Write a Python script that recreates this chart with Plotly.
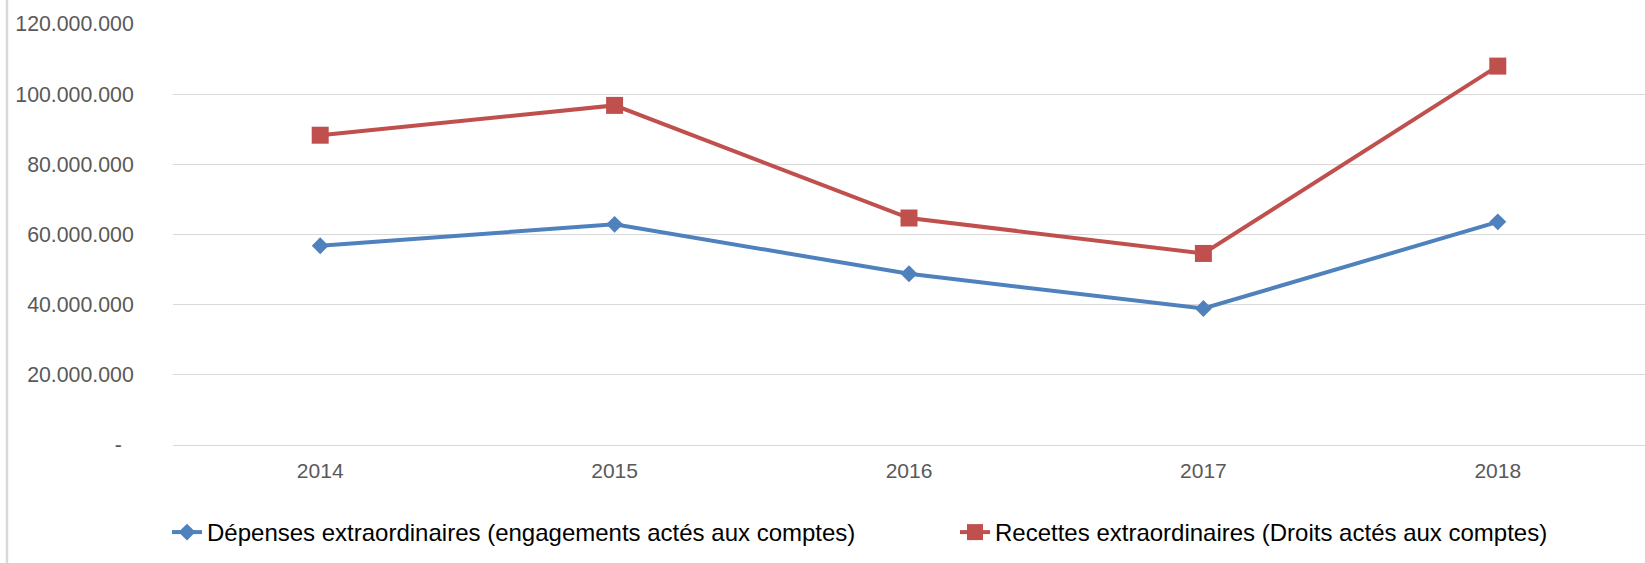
import plotly.graph_objects as go

years = ["2014", "2015", "2016", "2017", "2018"]
depenses = [56.8e6, 62.9e6, 48.8e6, 38.9e6, 63.6e6]
recettes = [88.3e6, 96.8e6, 64.7e6, 54.6e6, 108.0e6]
series_names = [
    "Dépenses extraordinaires (engagements actés aux comptes)",
    "Recettes extraordinaires (Droits actés aux comptes)",
]
y_tickvals = [0, 20e6, 40e6, 60e6, 80e6, 100e6, 120e6]
y_ticktext = ["-\u00a0\u00a0", "20.000.000", "40.000.000", "60.000.000",
              "80.000.000", "100.000.000", "120.000.000"]

W, H = 1645, 563
L, R, T, B = 173, 0, 24, 118
FONT = "Liberation Sans, Arial, sans-serif"

fig = go.Figure()
fig.add_trace(go.Scatter(
    x=years, y=depenses, name=series_names[0], mode="lines+markers",
    line=dict(color="#4F81BD", width=4),
    marker=dict(symbol="diamond", size=13, color="#4F81BD"),
    legend="legend",
))
fig.add_trace(go.Scatter(
    x=years, y=recettes, name=series_names[1], mode="lines+markers",
    line=dict(color="#C0504D", width=4),
    marker=dict(symbol="square", size=17, color="#C0504D"),
    legend="legend2",
))

leg_common = dict(
    orientation="h", xref="container", yref="container",
    xanchor="left", y=1 - 532.5 / H, yanchor="middle",
    font=dict(family=FONT, size=24, color="#000000"),
    bgcolor="rgba(0,0,0,0)",
)

fig.update_layout(
    width=W, height=H,
    margin=dict(l=L, r=R, t=T, b=B, pad=0, autoexpand=False),
    paper_bgcolor="white", plot_bgcolor="white",
    font=dict(family=FONT, color="#595959", size=21),
    showlegend=True,
    legend=dict(x=167 / W, **leg_common),
    legend2=dict(x=955 / W, **leg_common),
    xaxis=dict(
        type="category", range=[-0.5, 4.5], automargin=False,
        showgrid=False, zeroline=False, showline=False,
        ticks="outside", ticklen=7, tickcolor="rgba(0,0,0,0)",
        tickfont=dict(size=21, color="#595959"),
    ),
    yaxis=dict(
        range=[0, 120e6], tickvals=y_tickvals, ticktext=y_ticktext,
        automargin=False,
        showgrid=True, gridcolor="#D9D9D9", gridwidth=1.3,
        zeroline=True, zerolinecolor="#D9D9D9", zerolinewidth=1.3,
        showline=False,
        ticks="outside", ticklen=34, tickcolor="rgba(0,0,0,0)",
        tickfont=dict(size=21.3, color="#595959"),
    ),
)

# chart-area left border (decorative frame edge)
fig.add_shape(
    type="line", xref="paper", yref="paper",
    x0=(7 - L) / (W - L - R), x1=(7 - L) / (W - L - R),
    y0=-B / (H - T - B) - 0.01, y1=1 + T / (H - T - B) + 0.01,
    line=dict(color="#D9D9D9", width=2.5), layer="above",
)

fig.write_html(
    "out.html",
    config={"displayModeBar": False},
    post_script="document.body.style.margin='0';document.body.style.overflow='hidden';",
)
